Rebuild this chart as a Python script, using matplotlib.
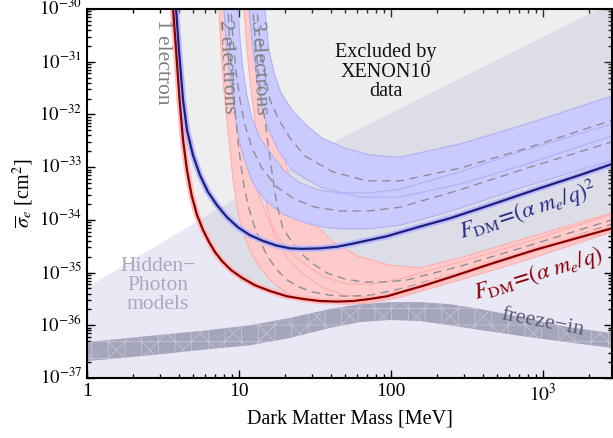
import numpy as np
import matplotlib.pyplot as plt
from matplotlib.ticker import LogLocator, FixedLocator, FixedFormatter, NullFormatter

plt.rcParams['font.family'] = ['Liberation Serif', 'DejaVu Serif']
plt.rcParams['mathtext.fontset'] = 'stix'
plt.rcParams['hatch.linewidth'] = 0.6

# every curve is stored as log10(mass / MeV) and log10(sigma_e / cm^2)

# hidden photon region upper boundary
hp_lgm = [0.0, 0.743, 1.138, 1.645, 3.355, 3.50]
hp_lgs = [-35.28, -34.00, -33.32, -32.49, -30.02, -29.81]

# freeze-in band
fi_lgm = [0.0, 0.414, 0.743, 1.072, 1.336, 1.599, 1.796, 1.993, 2.191, 2.388, 2.586, 2.849, 3.158, 3.454]
fi_top = [-36.32, -36.20, -36.11, -36.00, -35.86, -35.69, -35.60, -35.56, -35.56, -35.60, -35.69, -35.84, -36.03, -36.15]
fi_bot = [-36.68, -36.57, -36.47, -36.38, -36.24, -36.05, -35.94, -35.90, -35.92, -36.00, -36.09, -36.20, -36.32, -36.43]

# F_DM = alpha m_e / q, 1 electron (solid)
red1_lgm = [0.559, 0.566, 0.586, 0.609, 0.632, 0.658, 0.688, 0.724, 0.763, 0.803, 0.842, 0.888,
            0.947, 1.020, 1.105, 1.204, 1.316, 1.421, 1.533, 1.645, 1.750, 1.862, 1.974, 2.092,
            2.224, 2.388, 2.651, 2.947, 3.243, 3.454]
red1_lgs = [-29.83, -30.00, -30.78, -31.73, -32.49, -33.06, -33.53, -33.91, -34.19, -34.42, -34.61, -34.78,
            -34.95, -35.10, -35.24, -35.35, -35.45, -35.50, -35.54, -35.55, -35.54, -35.50, -35.45, -35.35,
            -35.24, -35.09, -34.84, -34.57, -34.33, -34.16]

# F_DM = (alpha m_e / q)^2, 1 electron (solid)
blue1_lgm = [0.579, 0.586, 0.605, 0.632, 0.658, 0.697, 0.743, 0.796, 0.855, 0.921, 0.993, 1.072,
             1.158, 1.250, 1.336, 1.421, 1.533, 1.645, 1.750, 1.862, 1.974, 2.092, 2.224, 2.388,
             2.651, 2.947, 3.243, 3.454]
blue1_lgs = [-29.83, -30.00, -30.78, -31.73, -32.30, -32.77, -33.15, -33.47, -33.72, -33.95, -34.14, -34.29,
             -34.40, -34.49, -34.54, -34.55, -34.54, -34.51, -34.45, -34.38, -34.31, -34.21, -34.10, -33.97,
             -33.72, -33.43, -33.15, -32.94]

# F_DM = alpha m_e / q, 2 electrons: centre, upper edge, lower edge
red2_lgm = [0.921, 0.928, 0.941, 0.961, 0.980, 1.000, 1.026, 1.059, 1.099, 1.145, 1.191,
            1.250, 1.316, 1.401, 1.487, 1.599, 1.711, 1.862, 2.059, 2.454, 2.849, 3.454]
red2_lgs = [-29.83, -30.00, -30.78, -31.54, -32.11, -32.68, -33.24, -33.72, -34.10, -34.44, -34.71,
            -34.95, -35.14, -35.28, -35.37, -35.43, -35.45, -35.43, -35.31, -34.99, -34.65, -34.08]
red2_hi_lgm = [0.980, 0.987, 1.000, 1.020, 1.039, 1.066, 1.099, 1.138, 1.184, 1.237,
               1.303, 1.382, 1.467, 1.566, 1.711, 1.862, 2.059, 2.454, 2.849, 3.454]
red2_hi_lgs = [-29.83, -30.00, -30.78, -31.54, -32.11, -32.68, -33.17, -33.59, -33.93, -34.23,
               -34.50, -34.72, -34.91, -35.09, -35.22, -35.22, -35.12, -34.80, -34.46, -33.89]
red2_lo_lgm = [0.862, 0.868, 0.882, 0.901, 0.921, 0.941, 0.961, 0.987, 1.020, 1.072, 1.125,
               1.204, 1.303, 1.401, 1.533, 1.711, 1.862, 2.059, 2.454, 2.849, 3.454]
red2_lo_lgs = [-29.83, -30.00, -30.78, -31.54, -32.11, -32.68, -33.24, -33.76, -34.19, -34.57, -34.86,
               -35.14, -35.37, -35.48, -35.56, -35.60, -35.58, -35.47, -35.14, -34.80, -34.23]

# F_DM = alpha m_e / q, 3 electrons
red3_lgm = [1.086, 1.092, 1.112, 1.138, 1.171, 1.197, 1.224, 1.250, 1.289, 1.382,
            1.480, 1.579, 1.697, 1.816, 1.961, 2.105, 2.454, 2.849, 3.454]
red3_lgs = [-29.83, -30.00, -30.78, -31.54, -32.11, -32.68, -33.24, -33.72, -34.16, -34.57,
            -34.82, -35.01, -35.12, -35.18, -35.18, -35.14, -34.88, -34.54, -34.00]
red3_hi_lgm = [1.151, 1.158, 1.178, 1.204, 1.243, 1.283, 1.329, 1.395, 1.493, 1.618,
               1.783, 1.993, 2.191, 2.454, 2.849, 3.454]
red3_hi_lgs = [-29.83, -30.00, -30.78, -31.54, -32.11, -32.68, -33.15, -33.62, -34.06, -34.42,
               -34.69, -34.86, -34.91, -34.72, -34.38, -33.87]
red3_lo_lgm = [1.026, 1.033, 1.053, 1.079, 1.105, 1.132, 1.158, 1.184, 1.224, 1.316,
               1.421, 1.546, 1.697, 1.862, 2.059, 2.454, 2.849, 3.454]
red3_lo_lgs = [-29.83, -30.00, -30.78, -31.54, -32.11, -32.68, -33.24, -33.76, -34.23, -34.72,
               -35.03, -35.28, -35.43, -35.47, -35.39, -35.07, -34.71, -34.12]

# F_DM = (alpha m_e / q)^2, 2 electrons
blue2_lgm = [0.941, 0.947, 0.961, 0.980, 1.007, 1.039, 1.086, 1.151, 1.250,
             1.368, 1.500, 1.664, 1.862, 2.059, 2.454, 2.849, 3.454]
blue2_lgs = [-29.83, -30.00, -30.59, -31.16, -31.73, -32.20, -32.64, -33.02, -33.38,
             -33.61, -33.76, -33.83, -33.83, -33.76, -33.43, -33.06, -32.52]
blue2_hi_lgm = [0.987, 0.993, 1.007, 1.026, 1.053, 1.086, 1.138, 1.217, 1.303,
                1.401, 1.520, 1.664, 1.862, 2.059, 2.454, 2.849, 3.454]
blue2_hi_lgs = [-29.83, -30.00, -30.59, -31.14, -31.67, -32.07, -32.45, -32.77, -33.09,
                -33.30, -33.43, -33.49, -33.49, -33.42, -33.09, -32.71, -32.18]
blue2_lo_lgm = [0.895, 0.901, 0.914, 0.934, 0.961, 0.987, 1.007, 1.026, 1.053, 1.079, 1.118, 1.171,
                1.237, 1.303, 1.382, 1.467, 1.566, 1.664, 1.862, 2.059, 2.257, 2.454, 2.849, 3.454]
blue2_lo_lgs = [-29.83, -30.00, -30.59, -31.16, -31.73, -32.26, -32.54, -32.77, -33.00, -33.21, -33.43, -33.62,
                -33.78, -33.91, -34.00, -34.08, -34.14, -34.17, -34.17, -34.10, -33.95, -33.78, -33.40, -32.87]

# F_DM = (alpha m_e / q)^2, 3 electrons
blue3_lgm = [1.112, 1.118, 1.145, 1.171, 1.204, 1.263, 1.336, 1.434, 1.618,
             1.842, 2.059, 2.454, 2.849, 3.454]
blue3_lgs = [-29.83, -30.00, -30.78, -31.25, -31.73, -32.11, -32.45, -32.79, -33.09,
             -33.26, -33.26, -33.02, -32.68, -32.11]
blue3_hi_lgm = [1.164, 1.171, 1.197, 1.230, 1.276, 1.349, 1.441, 1.546, 1.697,
                1.862, 2.059, 2.454, 2.849, 3.454]
blue3_hi_lgs = [-29.83, -30.00, -30.78, -31.20, -31.59, -31.92, -32.20, -32.45, -32.64,
                -32.77, -32.81, -32.56, -32.22, -31.65]
blue3_lo_lgm = [1.059, 1.066, 1.092, 1.118, 1.145, 1.191, 1.257, 1.349, 1.533,
                1.796, 2.059, 2.454, 2.849, 3.454]
blue3_lo_lgs = [-29.83, -30.00, -30.78, -31.31, -31.82, -32.26, -32.68, -33.06, -33.38,
                -33.57, -33.57, -33.32, -32.98, -32.41]

x_ticks = [1, 10, 100, 1000]
x_ticklabels = ['1', '10', '100', '$10^3$']
y_exps = [-37, -36, -35, -34, -33, -32, -31, -30]


def pts(lgm, lgs):
    return 10.0 ** np.asarray(lgm), 10.0 ** np.asarray(lgs)


fig = plt.figure(figsize=(6.13, 4.38), dpi=100)
ax = fig.add_axes([87 / 613, 1 - 378 / 438, 525 / 613, 369 / 438])
ax.set_xscale('log')
ax.set_yscale('log')
xmax = 10 ** 3.454
ax.set_xlim(1, xmax)
ax.set_ylim(1e-37, 1e-30)

# hidden photon models region
m, s = pts(hp_lgm, hp_lgs)
ax.fill_between(m, 1e-40, s, color='#e9e9f6', lw=0, zorder=1)

# XENON10 excluded region (above the strongest limit)
m, s = pts(red1_lgm, red1_lgs)
ax.fill(list(m) + [1e4, 1e4, m[0]], list(s) + [s[-1], 1e-28, 1e-28],
        color='#bdbdbd', alpha=0.25, lw=0, zorder=2)

# freeze-in band
m, st = pts(fi_lgm, fi_top)
_, sb = pts(fi_lgm, fi_bot)
ax.fill_between(m, sb, st, facecolor='#a5a5bc', edgecolor='#c4c4d4', hatch='x+', lw=0, zorder=3)


def band(hi_m, hi_s, lo_m, lo_s, fc, ec, z):
    hm, hs = pts(hi_m, hi_s)
    lm, ls = pts(lo_m, lo_s)
    ax.fill(np.r_[hm, lm[::-1]], np.r_[hs, ls[::-1]], color=fc, lw=0, zorder=z)
    ax.plot(hm, hs, color=ec, lw=0.8, zorder=z + 0.5)
    ax.plot(lm, ls, color=ec, lw=0.8, zorder=z + 0.5)


band(red2_hi_lgm, red2_hi_lgs, red2_lo_lgm, red2_lo_lgs, '#ffcaca', '#ffaeae', 4)
band(red3_hi_lgm, red3_hi_lgs, red3_lo_lgm, red3_lo_lgs, '#ffcaca', '#ffaeae', 4)
band(blue2_hi_lgm, blue2_hi_lgs, blue2_lo_lgm, blue2_lo_lgs, '#cacaff', '#b0b0f4', 5)
band(blue3_hi_lgm, blue3_hi_lgs, blue3_lo_lgm, blue3_lo_lgs, '#cacaff', '#b0b0f4', 5)

for lgm, lgs in [(red2_lgm, red2_lgs), (red3_lgm, red3_lgs),
                 (blue2_lgm, blue2_lgs), (blue3_lgm, blue3_lgs)]:
    m, s = pts(lgm, lgs)
    ax.plot(m, s, color='#8e8e98', lw=1.0, dashes=(6, 4), zorder=7)

# 1 electron limits with their thin bands
m, s = pts(red1_lgm, red1_lgs)
ax.plot(m, s, color='#ffbcbc', lw=4.5, solid_capstyle='butt', zorder=8)
ax.plot(m, s, color='#8b0000', lw=1.6, zorder=9)
m, s = pts(blue1_lgm, blue1_lgs)
ax.plot(m, s, color='#b8b8ff', lw=4.5, solid_capstyle='butt', zorder=8)
ax.plot(m, s, color='#1f1f78', lw=1.6, zorder=9)

# labels
ax.text(3.16, 1.0e-31, '1 electron', rotation=-90, color='#808080', fontsize=15.5,
        ha='center', va='center', zorder=10)
ax.text(8.34, 8.0e-32, '2 electrons', rotation=-87, color='#808080', fontsize=15.5,
        ha='center', va='center', zorder=10)
ax.text(13.6, 7.6e-32, '3 electrons', rotation=-87, color='#808080', fontsize=15.5,
        ha='center', va='center', zorder=10)
ax.text(92.7, 6.3e-32, 'Excluded by\nXENON10\ndata', color='#111111', fontsize=14.5,
        ha='center', va='center', linespacing=1.05, zorder=10)
ax.text(2.93, 5.7e-36, 'Hidden\u2212\nPhoton\nmodels', color='#a9a9b8', fontsize=15.5,
        ha='center', va='center', linespacing=1.0, zorder=10)
ax.text(985, 1.1e-36, 'freeze\u2212in', rotation=-11, color='#5a5a78', fontsize=16,
        ha='center', va='center', zorder=10)
ax.text(800, 1.5e-34, r'$F_{\rm DM}\!=\!(\alpha\ m_e/q)^2$', rotation=18, color='#2a2a88',
        fontsize=16.5, ha='center', va='center', zorder=10)
ax.text(930, 9.6e-36, r'$F_{\rm DM}\!=\!(\alpha\ m_e/q)$', rotation=17, color='#8b0000',
        fontsize=16.5, ha='center', va='center', zorder=10)

ax.xaxis.set_major_locator(FixedLocator(x_ticks))
ax.xaxis.set_major_formatter(FixedFormatter(x_ticklabels))
ax.xaxis.set_minor_locator(LogLocator(base=10, subs=np.arange(2, 10)))
ax.xaxis.set_minor_formatter(NullFormatter())
ax.yaxis.set_major_locator(FixedLocator([10.0 ** e for e in y_exps]))
ax.yaxis.set_major_formatter(FixedFormatter(['$10^{%d}$' % e for e in y_exps]))
ax.yaxis.set_minor_locator(LogLocator(base=10, subs=np.arange(2, 10), numticks=20))
ax.yaxis.set_minor_formatter(NullFormatter())
ax.tick_params(which='both', direction='in', top=True, right=True, labelsize=14, width=1.0)
ax.tick_params(axis='y', labelsize=13.5)
ax.tick_params(which='major', length=6)
ax.tick_params(which='minor', length=3)
for lab in ax.get_yticklabels():
    lab.set_verticalalignment('center')
for sp in ax.spines.values():
    sp.set_linewidth(1.5)
    sp.set_zorder(20)

ax.set_xlabel('Dark Matter Mass [MeV]', fontsize=14.5, labelpad=3)
ax.set_ylabel(r'$\overline{\sigma}_e$ [cm$^2$]', fontsize=14.5, labelpad=2)

fig.savefig('out.png', dpi=100)
